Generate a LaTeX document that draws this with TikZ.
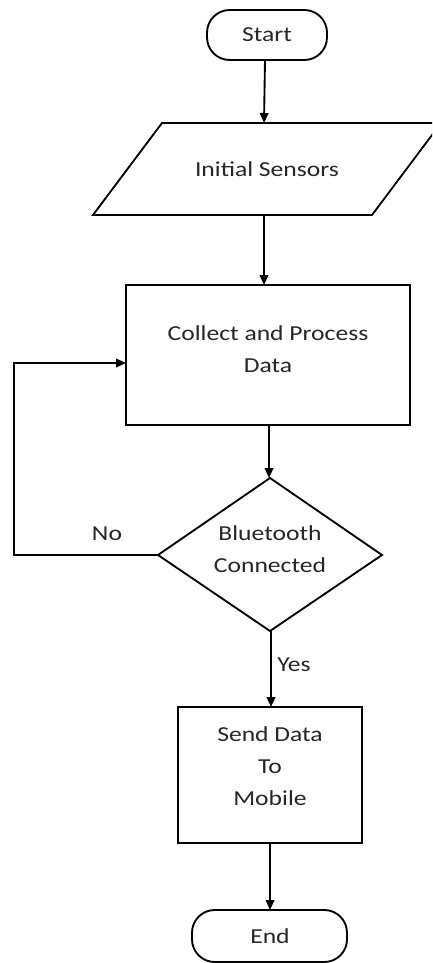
\documentclass[tikz,border=0pt]{standalone}
\usepackage{fontspec}
\setmainfont[FakeStretch=1.2]{Carlito}
\usetikzlibrary{arrows.meta}
\definecolor{txt}{HTML}{262626}
\tikzset{
  line/.style={draw=black, line width=1.4pt},
  arr/.style={line, -{Triangle[length=7.5pt,width=6.5pt]}},
  lbl/.style={text=txt, font=\fontsize{16}{24}\selectfont, align=center, inner sep=0pt},
  term/.style={line, rounded corners=17pt},
}
\begin{document}
\begin{tikzpicture}[x=0.75pt, y=-0.75pt]
\clip (0,0) rectangle (432,963);
\fill[white] (0,0) rectangle (432,963);
% Start
\draw[term] (207,10) rectangle (327,60);
\node[lbl] (start) at (267,35) {Start};
\coordinate (startB) at (265,60);
% Initial Sensors (parallelogram)
\draw[line] (162,123) -- (441,123) -- (372,215) -- (93,215) -- cycle;
\node[lbl] (sens) at (267,169) {Initial Sensors};
\coordinate (sensT) at (264,123);
\coordinate (sensB) at (264,215);
% Collect and process
\draw[line] (126,285) rectangle (410,425);
\node[lbl] (proc) at (268,349) {Collect and Process\\Data};
\coordinate (procT) at (264,285);
\coordinate (procB) at (269,425);
\coordinate (procL) at (126,363);
% Decision
\draw[line] (270,478) -- (382,555) -- (270,631) -- (158,555) -- cycle;
\node[lbl] (dec) at (270,549) {Bluetooth\\Connected};
\coordinate (decT) at (269,478);
\coordinate (decL) at (158,555);
\coordinate (decB) at (271,631);
\coordinate (loopA) at (14,555);
\coordinate (loopB) at (14,363);
\node[lbl] (no) at (107,534) {No};
\node[lbl, anchor=west] (yes) at (277,665) {Yes};
% Send data
\draw[line] (178,707) rectangle (362,843);
\node[lbl] (send) at (270,766) {Send Data\\To\\Mobile};
\coordinate (sendT) at (271,707);
\coordinate (sendB) at (270,843);
% End
\draw[term] (192,910) rectangle (347,962);
\node[lbl] (end) at (270,936) {End};
\coordinate (endT) at (270,910);
% connectors
\draw[arr] (startB) -- (sensT);
\draw[arr] (sensB) -- (procT);
\draw[arr] (procB) -- (decT);
\draw[arr] (decL) -- (loopA) -- (loopB) -- (procL);
\draw[arr] (decB) -- (sendT);
\draw[arr] (sendB) -- (endT);
\end{tikzpicture}
\end{document}
